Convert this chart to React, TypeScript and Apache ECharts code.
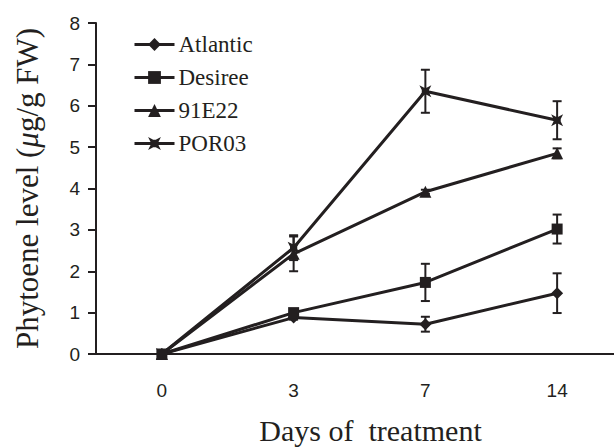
import React, { useEffect, useRef } from "react";
import * as echarts from "echarts";

const days = ["0", "3", "7", "14"];
const seriesNames = ["Atlantic", "Desiree", "91E22", "POR03"];
const atlantic = [0, 0.88, 0.72, 1.47];
const atlanticErr = [0, 0.05, 0.18, 0.48];
const desiree = [0, 1.0, 1.73, 3.02];
const desireeErr = [0, 0.05, 0.45, 0.35];
const e91e22 = [0, 2.42, 3.92, 4.85];
const e91e22Err = [0, 0.42, 0.05, 0.12];
const por03 = [0, 2.57, 6.35, 5.65];
const por03Err = [0, 0.3, 0.52, 0.46];
const yTicks = [0, 1, 2, 3, 4, 5, 6, 7, 8];

const INK = "#231f20";
const xMarker =
  "path://M0,0 L4,2 L6,2 L10,0 L8,4 L8,6 L10,10 L6,8 L4,8 L0,10 L2,6 L2,4 Z";

const symbols = ["diamond", "rect", "triangle", xMarker];
const symbolSizes = [12, 11, 12, 12];
const values = [atlantic, desiree, e91e22, por03];
const errs = [atlanticErr, desireeErr, e91e22Err, por03Err];

export default function App() {
  const ref = useRef<HTMLDivElement>(null);
  useEffect(() => {
    if (!ref.current) return;
    const chart = echarts.init(ref.current, null, { renderer: "svg" });
    const lineSeries = seriesNames.map((name, i) => ({
      name,
      type: "line",
      data: values[i],
      symbol: symbols[i],
      symbolSize: symbolSizes[i],
      showAllSymbol: true,
      lineStyle: { color: INK, width: 3 },
      itemStyle: { color: INK, borderWidth: 0 },
      z: i === 1 ? 5 : 3,
    }));
    const errSeries = seriesNames.map((name, i) => ({
      name: name + "-err",
      type: "custom",
      data: values[i].map((v, k) => [k, v - errs[i][k], v + errs[i][k]]),
      z: 2,
      renderItem: (params: any, api: any) => {
        const idx = api.value(0);
        const lo = api.coord([idx, api.value(1)]);
        const hi = api.coord([idx, api.value(2)]);
        if (Math.abs(hi[1] - lo[1]) < 1) return { type: "group", children: [] };
        const hw = 4.5;
        const st = { stroke: INK, lineWidth: 2 };
        return {
          type: "group",
          children: [
            { type: "line", shape: { x1: lo[0], y1: lo[1], x2: hi[0], y2: hi[1] }, style: st },
            { type: "line", shape: { x1: hi[0] - hw, y1: hi[1], x2: hi[0] + hw, y2: hi[1] }, style: st },
            { type: "line", shape: { x1: lo[0] - hw, y1: lo[1], x2: lo[0] + hw, y2: lo[1] }, style: st },
          ],
        };
      },
    }));
    chart.setOption({
      animation: false,
      backgroundColor: "#ffffff",
      grid: { left: 96, top: 23, bottom: 94, right: -9, outerBoundsMode: "none", containLabel: false },
      legend: {
        data: seriesNames,
        orient: "vertical",
        left: 133,
        top: 33,
        padding: 0,
        itemWidth: 40,
        itemHeight: 16,
        itemGap: 10,
        lineStyle: { width: 3, color: INK },
        textStyle: { fontFamily: "Liberation Serif", fontSize: 23, color: INK, padding: [0, 0, 0, -1] },
      },
      xAxis: {
        type: "category",
        data: days,
        boundaryGap: true,
        axisLine: { lineStyle: { color: INK, width: 2 } },
        axisTick: { alignWithLabel: true, length: 6, inside: false, lineStyle: { color: INK, width: 2 } },
        axisLabel: { fontFamily: "Liberation Sans", fontSize: 19, color: INK, margin: 27 },
        name: "Days of  treatment",
        nameLocation: "middle",
        nameGap: 61,
        nameTextStyle: {
          fontFamily: "Liberation Serif",
          fontSize: 30,
          color: INK,
          padding: [0, 0, 0, 22],
        },
      },
      yAxis: {
        type: "value",
        min: yTicks[0],
        max: yTicks[yTicks.length - 1],
        interval: 1,
        splitLine: { show: false },
        axisLine: { show: true, lineStyle: { color: INK, width: 2 } },
        axisTick: { show: true, length: 8, lineStyle: { color: INK, width: 2 } },
        axisLabel: { fontFamily: "Liberation Sans", fontSize: 19, color: INK, margin: 16 },
        name: "Phytoene level ({i|μ}g/g FW)",
        nameLocation: "middle",
        nameGap: 53,
        nameTextStyle: {
          fontFamily: "Liberation Serif",
          fontSize: 31,
          color: INK,
          rich: {
            i: { fontFamily: "Liberation Serif", fontStyle: "italic", fontSize: 31, color: INK },
          },
        },
      },
      series: [...errSeries, ...lineSeries],
    });
    return () => chart.dispose();
  }, []);
  return (
    <div
      ref={ref}
      style={{ position: "fixed", left: 0, top: 0, width: 614, height: 448, background: "#fff" }}
    />
  );
}
